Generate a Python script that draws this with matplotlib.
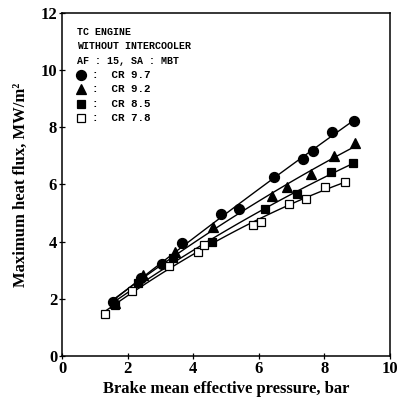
import matplotlib
matplotlib.use('Agg')
import matplotlib.pyplot as plt
import numpy as np

# Maximum heat flux vs BMEP for four compression ratios
cr97_bmep = [1.56, 2.41, 3.04, 3.65, 4.85, 5.38, 6.47, 7.34, 7.66, 8.22, 8.91]
cr97_flux = [1.90, 2.74, 3.20, 3.96, 4.96, 5.13, 6.25, 6.88, 7.18, 7.84, 8.23]

cr92_bmep = [1.60, 2.48, 3.45, 4.61, 6.39, 6.85, 7.58, 8.30, 8.93]
cr92_flux = [1.85, 2.83, 3.65, 4.50, 5.60, 5.90, 6.36, 6.99, 7.44]

cr85_bmep = [1.62, 2.30, 3.39, 4.56, 6.19, 7.15, 8.20, 8.88]
cr85_flux = [1.78, 2.55, 3.42, 4.00, 5.14, 5.66, 6.42, 6.76]

cr78_bmep = [1.31, 2.13, 3.27, 4.15, 4.34, 5.81, 6.06, 6.93, 7.44, 8.02, 8.63]
cr78_flux = [1.46, 2.26, 3.16, 3.64, 3.89, 4.58, 4.70, 5.30, 5.49, 5.90, 6.10]

labels = ['CR 9.7', 'CR 9.2', 'CR 8.5', 'CR 7.8']

serif = 'Liberation Serif'
mono = 'Liberation Mono'

fig = plt.figure(figsize=(4.03, 4.04), dpi=100)
ax = fig.add_axes([0.154, 0.119, 0.814, 0.849])

series = [
    (cr97_bmep, cr97_flux, dict(marker='o', ms=7.2, mfc='black')),
    (cr92_bmep, cr92_flux, dict(marker='^', ms=7.0, mfc='black')),
    (cr85_bmep, cr85_flux, dict(marker='s', ms=5.8, mfc='black')),
    (cr78_bmep, cr78_flux, dict(marker='s', ms=5.8, mfc='white')),
]

for x, y, style in series:
    x = np.asarray(x)
    y = np.asarray(y)
    # smooth trend line through each set
    coef = np.polyfit(x, y, 2)
    xs = np.linspace(x.min() - 0.1, x.max(), 100)
    ax.plot(xs, np.polyval(coef, xs), color='black', lw=1.0, zorder=2)
    ax.plot(x, y, ls='none', mec='black', mew=0.9, zorder=3, **style)

ax.set_xlim(0, 10)
ax.set_ylim(0, 12)
ax.set_xticks([0, 2, 4, 6, 8, 10])
ax.set_yticks([0, 2, 4, 6, 8, 10, 12])
ax.tick_params(direction='inout', length=5, width=0.9, labelsize=12, pad=1)
for lab in ax.get_xticklabels() + ax.get_yticklabels():
    lab.set_fontfamily(serif)
    lab.set_fontweight('bold')
for sp in ax.spines.values():
    sp.set_linewidth(1.1)

ax.set_xlabel('Brake mean effective pressure, bar', fontfamily=serif,
              fontweight='bold', fontsize=12, labelpad=3)
ax.set_ylabel('Maximum heat flux, MW/m\u00b2', fontfamily=serif,
              fontweight='bold', fontsize=12, labelpad=8)

# legend-like annotation block
tx = 0.045
header = ['TC ENGINE', 'WITHOUT INTERCOOLER', 'AF : 15, SA : MBT']
ytop = 0.945
step = 0.042
for i, line in enumerate(header):
    ax.text(tx, ytop - i * step, line, transform=ax.transAxes,
            fontfamily=mono, fontsize=7.2, fontweight='bold', va='center')
for j, ((_, _, style), lab) in enumerate(zip(series, labels)):
    yy = ytop - (j + 3) * step
    ax.plot([tx + 0.012], [yy], transform=ax.transAxes, ls='none',
            mec='black', mew=0.9, clip_on=False, **style)
    ax.text(tx + 0.045, yy, ':  ' + lab, transform=ax.transAxes,
            fontfamily=mono, fontsize=7.8, fontweight='bold', va='center')

fig.savefig('out.png', dpi=100)
